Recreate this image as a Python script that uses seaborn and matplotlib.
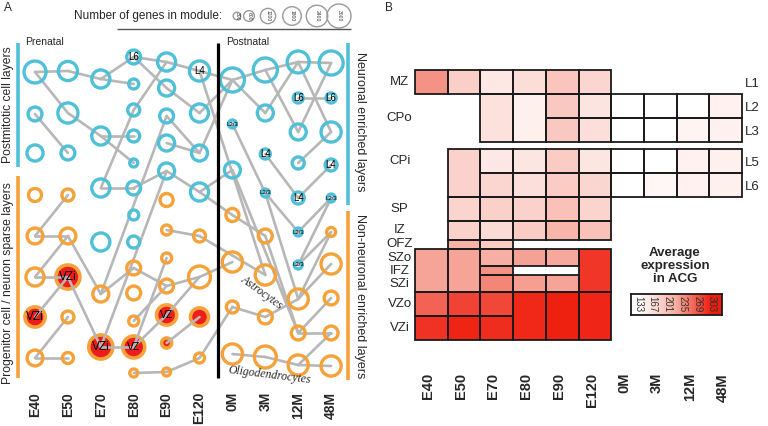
import numpy as np
import pandas as pd
import matplotlib
matplotlib.use('Agg')
import matplotlib.pyplot as plt
import seaborn as sns
from matplotlib.colors import LinearSegmentedColormap
from matplotlib.patches import Rectangle

sns.set_style('white')
plt.rcParams['font.family'] = ['Liberation Sans', 'DejaVu Sans']

# ---------------- data: panel A (modules per timepoint) ----------------
timepoints = ['E40', 'E50', 'E70', 'E80', 'E90', 'E120', '0M', '3M', '12M', '48M']

# vertical position of each module, top to bottom, per timepoint
module_depth = {
    'E40': [72, 114, 153, 195, 236, 277, 317, 358],
    'E50': [71, 113, 153, 195, 236, 277, 317, 358],
    'E70': [79, 136, 188, 242, 294, 347],
    'E80': [57, 84, 110, 136, 163, 188, 215, 242, 268, 293, 321, 347, 373],
    'E90': [62, 88, 116, 143, 171, 200, 230, 258, 286, 315, 343, 372],
    'E120': [71, 113, 153, 192, 236, 277, 317, 358],
    '0M': [80, 124, 170, 215, 262, 307, 354],
    '3M': [70, 113, 154, 193, 236, 275, 317, 357],
    '12M': [62, 98, 132, 163, 198, 232, 265, 299, 333, 365],
    '48M': [63, 98, 132, 165, 198, 232, 264, 298, 333, 366],
}
# number of genes in each module
module_genes = {
    'E40': [2500, 1000, 1350, 880, 1300, 1700, 2100, 1300],
    'E50': [1900, 2100, 1000, 750, 1300, 3000, 750, 630],
    'E70': [1700, 1700, 1700, 1700, 1330, 4000],
    'E80': [1000, 520, 750, 750, 330, 1000, 520, 750, 1000, 1000, 520, 2500, 330],
    'E90': [1700, 1330, 1000, 1330, 1330, 880, 520, 520, 1000, 2100, 520, 330],
    'E120': [2100, 1700, 1330, 1700, 750, 2500, 1700, 520],
    '0M': [3500, 330, 1330, 880, 2100, 750, 2100],
    '3M': [3000, 1330, 520, 330, 1000, 2100, 1000, 2500],
    '12M': [2500, 520, 1330, 750, 750, 330, 330, 2100, 1000, 2100],
    '48M': [3000, 520, 2100, 750, 330, 420, 2100, 1000, 1000, 2100],
}
# n = neuronal enriched, g = non-neuronal, p = progenitor (VZ) module
module_kind = {
    'E40': 'nnngggpg', 'E50': 'nnnggpgg', 'E70': 'nnnngp',
    'E80': 'nnnnnnnngggpg', 'E90': 'nnnnnggggppg', 'E120': 'nnnnggpg',
    '0M': 'nnngggg', '3M': 'nnnngggg', '12M': 'nnnnnnnggg', '48M': 'nnnnnggggg',
}
module_label = {
    'E40g': 'VZi', 'E50f': 'VZi', 'E70f': 'VZi', 'E80a': 'L6', 'E80l': 'VZ',
    'E90j': 'VZ', 'E120a': 'L4', '0Mb': 'L2/3', '3Mc': 'L4', '3Md': 'L2/3',
    '12Mb': 'L6', '12Me': 'L4', '12Mf': 'L2/3', '12Mg': 'L2/3',
    '48Mb': 'L6', '48Md': 'L4', '48Me': 'L2/3',
}
module_links = [
    'E40a-E50a', 'E50a-E70a', 'E70a-E80b', 'E70a-E80a', 'E80a-E90a', 'E90a-E120a',
    'E120a-0Ma', '0Ma-3Ma', '3Ma-12Ma', '12Ma-48Ma', 'E40a-E50b', 'E50b-E70b',
    'E70b-E80d', 'E70b-E80e', 'E40b-E50c', 'E80a-E90b', 'E90b-E120b', 'E120b-0Ma',
    'E90a-E80c', 'E80c-E70c', 'E70c-E80f', 'E80f-E90e', 'E90e-E120d', 'E90c-E120c',
    'E90d-E120c', 'E120c-0Ma', 'E70e-E90c', 'E70f-E90e', 'E120d-0Mc', 'E120d-0Md',
    '0Md-3Me', '0Ma-3Mb', '3Mb-12Ma', '12Ma-48Mc', '48Ma-12Mc', '3Ma-12Mc',
    '12Mb-48Mb', '12Md-48Mc', '3Mc-12Me', '12Me-48Md', '0Mb-3Md', '3Md-12Mf',
    '3Md-12Mh', '48Me-12Mf', '48Me-12Mg', '48Mf-12Mg', '12Mh-48Mg', '12Mh-48Mf',
    'E120a-3Mf', '0Mc-12Mi',
    'E40e-E50e', 'E40e-E50d', 'E40f-E50f', 'E40f-E50e', 'E40g-E50f', 'E40h-E50g',
    'E40h-E50h', 'E50e-E70e', 'E50f-E70f', 'E70f-E80l', 'E70e-E80i', 'E80i-E90i',
    'E90i-E120f', 'E80l-E90j', 'E80l-E90h', 'E80k-E90i', 'E90g-E120e', 'E90j-E120f',
    'E90k-E120g', 'E80m-E90l', 'E90l-E120h', 'E120h-0Mf', 'E120f-0Me', 'E120e-3Mf',
    '0Mf-3Mg', '3Mg-12Mh', '0Mg-3Mh', '3Mh-12Mj', '12Mj-48Mj', '12Mj-48Mi',
    '12Mi-48Mi', '12Mi-48Mh', '3Me-12Mi',
]
legend_genes = [300, 600, 1200, 1800, 2400, 3000]

# ---------------- data: panel B (average expression in ACG) ----------------
zones = ['MZ', 'L2', 'L3', 'gap', 'L5', 'L6', 'SP', 'IZ', 'OFZ', 'SZo', 'IFZ', 'SZi', 'VZo', 'VZi']
nan = np.nan
acg_MZ = [235, 185, 158, 170, 195, 178, nan, nan, nan, nan]
acg_L2 = [nan, nan, 165, 150, 192, 162, 133, 133, 133, 148]
acg_L3 = [nan, nan, 165, 150, 192, 168, 133, 133, 145, 148]
acg_gap = [nan] * 10
acg_L5 = [nan, 182, 158, 160, 188, 160, 133, 133, 148, 150]
acg_L6 = [nan, 182, 178, 168, 188, 178, 133, 142, 148, 150]
acg_SP = [nan, 180, 183, 182, 200, 180, nan, nan, nan, nan]
acg_IZ = [nan, 182, 172, 188, 212, 200, nan, nan, nan, nan]
acg_OFZ = [nan, 215, 188, nan, nan, nan, nan, nan, nan, nan]
acg_SZo = [225, 225, 218, 226, 222, 288, nan, nan, nan, nan]
acg_IFZ = [225, 225, 235, nan, nan, 288, nan, nan, nan, nan]
acg_SZi = [225, 225, 242, 228, 225, 288, nan, nan, nan, nan]
acg_VZo = [262, 280, 278, 296, 300, 297, nan, nan, nan, nan]
acg_VZi = [290, 298, 293, 296, 300, 297, nan, nan, nan, nan]
merged_cells = [('L2', 'L3', 2), ('L2', 'L3', 3), ('L5', 'L6', 1),
                ('SZo', 'SZi', 0), ('SZo', 'SZi', 1), ('SZo', 'SZi', 5),
                ('VZo', 'VZi', 3), ('VZo', 'VZi', 4), ('VZo', 'VZi', 5)]
left_names = ['MZ', 'CPo', 'CPi', 'SP', 'IZ', 'OFZ', 'SZo', 'IFZ', 'SZi', 'VZo', 'VZi']
left_spans = [('MZ', 'MZ'), ('L2', 'L3'), ('L5', 'L5'), ('SP', 'SP'), ('IZ', 'IZ'),
              ('OFZ', 'OFZ'), ('SZo', 'SZo'), ('IFZ', 'IFZ'), ('SZi', 'SZi'),
              ('VZo', 'VZo'), ('VZi', 'VZi')]
right_names = ['L1', 'L2', 'L3', 'L5', 'L6']
right_zones = ['MZ', 'L2', 'L3', 'L5', 'L6']
scale_ticks = [133, 167, 201, 235, 269, 303]

# ---------------- styles ----------------
CYAN = '#4fc0d8'
ORANGE = '#f5a23a'
RED = '#ee1c1a'
EDGE = '#b7b7b7'
SIZES = (0, 300)
SIZE_NORM = (0, 3000)

fig = plt.figure(figsize=(7.68, 4.26), dpi=100)

# ---------------- panel A ----------------
axA = fig.add_axes([0, 0, 380 / 768, 1])
rows = []
for t_i, t in enumerate(timepoints):
    for k, (d, g, kind) in enumerate(zip(module_depth[t], module_genes[t], module_kind[t])):
        rows.append(dict(id=t + 'abcdefghijklm'[k], x=t_i, y=d, genes=g, kind=kind))
nodes = pd.DataFrame(rows).set_index('id')

edge_rows = []
for e_i, link in enumerate(module_links):
    a, b = link.split('-')
    for n in (a, b):
        edge_rows.append(dict(edge=e_i, x=nodes.loc[n, 'x'], y=nodes.loc[n, 'y']))
edges = pd.DataFrame(edge_rows)

# progenitor modules (filled) under the links
prog = nodes[nodes['kind'] == 'p']
sns.scatterplot(data=prog, x='x', y='y', size='genes', sizes=SIZES, size_norm=SIZE_NORM,
                facecolor=RED, edgecolor=ORANGE, linewidth=2.6, legend=False, ax=axA)
axA.collections[-1].set_zorder(1)

sns.lineplot(data=edges, x='x', y='y', units='edge', estimator=None, sort=False,
             color=EDGE, linewidth=1.9, legend=False, ax=axA)

for kind, col in [('n', CYAN), ('g', ORANGE)]:
    sub = nodes[nodes['kind'] == kind]
    sns.scatterplot(data=sub, x='x', y='y', size='genes', sizes=SIZES, size_norm=SIZE_NORM,
                    facecolor='none', edgecolor=col, linewidth=2.4, legend=False, ax=axA)
    axA.collections[-1].set_zorder(3)

label_size = {'VZi': 8.5, 'VZ': 7.5, 'L6': 7, 'L4': 7, 'L2/3': 4.3}
for nid, lab in module_label.items():
    axA.text(nodes.loc[nid, 'x'], nodes.loc[nid, 'y'], lab, ha='center', va='center',
             fontsize=label_size[lab], zorder=5, color='black')

axA.vlines(5.56, 43, 378, color='black', linewidth=2.3, zorder=4)
axA.set_xlim(-35 / 32.9, 345 / 32.9)
axA.set_ylim(426, 0)
axA.axis('off')

# ---------------- panel B ----------------
zone_units = [10, 10, 10, 3, 10, 10, 10, 8, 4, 7, 4, 7, 10, 10]
zone_vals = [acg_MZ, acg_L2, acg_L3, acg_gap, acg_L5, acg_L6, acg_SP, acg_IZ,
             acg_OFZ, acg_SZo, acg_IFZ, acg_SZi, acg_VZo, acg_VZi]
grid = np.vstack([np.tile(v, (u, 1)) for v, u in zip(zone_vals, zone_units)]).astype(float)
zone_start = dict(zip(zones, np.cumsum([0] + zone_units[:-1])))
zone_h = dict(zip(zones, zone_units))
n_units = sum(zone_units)

cmap = LinearSegmentedColormap.from_list('acg', ['#ffffff', '#f7b0a4', '#ee1c0c'])

axB = fig.add_axes([415 / 768, 1 - 340 / 426, 327 / 768, 270 / 426])
sns.heatmap(grid, mask=np.isnan(grid), cmap=cmap, vmin=133, vmax=303, cbar=False,
            xticklabels=False, yticklabels=False, ax=axB)

in_merge = set()
for z0, z1, c in merged_cells:
    i0, i1 = zones.index(z0), zones.index(z1)
    for z in zones[i0:i1 + 1]:
        in_merge.add((z, c))
    y0 = zone_start[z0]
    h = zone_start[z1] + zone_h[z1] - y0
    axB.add_patch(Rectangle((c, y0), 1, h, fill=False, edgecolor='#1a1a1a',
                            linewidth=1.3, clip_on=False, zorder=3))
for z, vals in zip(zones, zone_vals):
    for c, v in enumerate(vals):
        if np.isnan(v) or (z, c) in in_merge:
            continue
        axB.add_patch(Rectangle((c, zone_start[z]), 1, zone_h[z], fill=False,
                                edgecolor='#1a1a1a', linewidth=1.3, clip_on=False, zorder=3))

for name, (z0, z1) in zip(left_names, left_spans):
    yc = (zone_start[z0] + zone_start[z1] + zone_h[z1]) / 2
    axB.text(-0.47, yc, name, ha='center', va='center', fontsize=9.5)
for name, z in zip(right_names, right_zones):
    axB.text(10.1, zone_start[z] + zone_h[z] / 2 + 0.8, name, ha='left', va='center', fontsize=9.5)
for i, t in enumerate(timepoints):
    axB.text(i + 0.4, n_units + 13.8, t, rotation=90, fontsize=10.5, fontweight='bold',
             ha='center', va='top', clip_on=False)

# colour scale legend
lo, hi = 117, 326
axL = fig.add_axes([631 / 768, 1 - 315 / 426, 91 / 768, 21 / 426])
grad = np.linspace(lo, hi, 120).reshape(1, -1)
sns.heatmap(grad, cmap=cmap, vmin=133, vmax=303, cbar=False, xticklabels=False,
            yticklabels=False, ax=axL)
for s in axL.spines.values():
    s.set_visible(True)
    s.set_linewidth(1.3)
    s.set_color('#1a1a1a')
for v in scale_ticks:
    axL.text((v - lo) / (hi - lo) * 120, 0.5, str(v), rotation=-90, ha='center',
             va='center', fontsize=7, color='#333333')

# ---------------- annotations ----------------
deco = fig.add_axes([0, 0, 1, 1])
deco.set_xlim(0, 768)
deco.set_ylim(426, 0)
deco.axis('off')

deco.text(4, 8, 'A', fontsize=8.5, va='center')
deco.text(385, 8, 'B', fontsize=8.5, va='center')
deco.text(222, 16, 'Number of genes in module:', fontsize=8.5, ha='right', va='center')
leg_x = [237, 249, 268, 292, 317, 339]
sns.scatterplot(x=leg_x, y=[16] * 6, size=legend_genes, sizes=SIZES, size_norm=SIZE_NORM,
                facecolor='none', edgecolor='#9a9a9a', linewidth=1.0, legend=False, ax=deco)
for x, g in zip(leg_x, legend_genes):
    deco.text(x, 16, str(g), rotation=-90, fontsize=3.6, ha='center', va='center', color='#333333')
deco.hlines(29, 117, 351, color='#555555', linewidth=1.0)

deco.text(25, 42, 'Prenatal', fontsize=7.5, va='center')
deco.text(226, 42, 'Postnatal', fontsize=7.5, va='center')

deco.vlines(18, 43, 167, color=CYAN, linewidth=2.6)
deco.vlines(18, 176, 378, color=ORANGE, linewidth=2.6)
deco.vlines(348, 43, 205, color=CYAN, linewidth=2.6)
deco.vlines(348, 211, 380, color=ORANGE, linewidth=2.6)
deco.text(8, 105, 'Postmitotic cell layers', rotation=90, fontsize=8.7, ha='center', va='center')
deco.text(8, 283, 'Progenitor cell / neuron sparse layers', rotation=90, fontsize=8.7,
          ha='center', va='center')
deco.text(360, 122, 'Neuronal enriched layers', rotation=-90, fontsize=9, ha='center', va='center')
deco.text(360, 296, 'Non-neuronal enriched layers', rotation=-90, fontsize=9, ha='center',
          va='center')

deco.text(262, 292, 'Astrocytes', rotation=-36, fontsize=8.5, family='Liberation Serif',
          style='italic', ha='center', va='center')
deco.text(270, 375, 'Oligodendrocytes', rotation=-7, fontsize=8.5, family='Liberation Serif',
          style='italic', ha='center', va='center')

for i, t in enumerate(timepoints):
    deco.text(35 + 32.9 * i, 392, t, rotation=90, fontsize=10, fontweight='bold',
              ha='center', va='top')

deco.text(675, 266, 'Average\nexpression\nin ACG', fontsize=9.5, fontweight='bold',
          ha='center', va='center', linespacing=1.15)

fig.savefig('out.png', dpi=100)
